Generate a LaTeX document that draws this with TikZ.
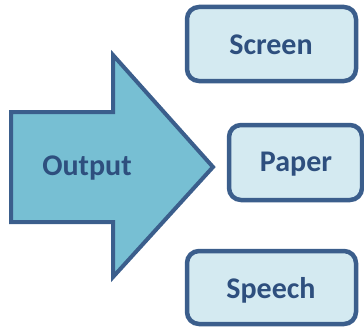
\documentclass[tikz,border=0pt]{standalone}
\usepackage{fontspec}
\setmainfont{Carlito}
\definecolor{edgeblue}{HTML}{3B5E8C}
\definecolor{arrowfill}{HTML}{77BFD3}
\definecolor{boxfill}{HTML}{D4EAF1}
\definecolor{textblue}{HTML}{2E4F7E}
\begin{document}
\begin{tikzpicture}[x=1pt,y=-1pt,
  outbox/.style={draw=edgeblue, fill=boxfill, line width=4.5pt, rounded corners=12pt},
  label/.style={font=\fontsize{30}{34}\selectfont\bfseries, text=textblue}]
\useasboundingbox (0,0) rectangle (364,329);
% big block arrow
\draw[draw=edgeblue, fill=arrowfill, line width=4pt, line join=miter]
  (11,112) -- (113,112) -- (113,55) -- (213,167) -- (113,277) -- (113,222) -- (11,222) -- cycle;
\node[label] (out) at (87,168) {Output};
% output devices
\draw[outbox] (187,7) rectangle (356,81);
\node[label] (screen) at (271,45) {Screen};
\draw[outbox] (229,125) rectangle (362,200);
\node[label] (paper) at (296,164) {Paper};
\draw[outbox] (187,251) rectangle (356,324);
\node[label] (speech) at (271,290) {Speech};
\end{tikzpicture}
\end{document}
